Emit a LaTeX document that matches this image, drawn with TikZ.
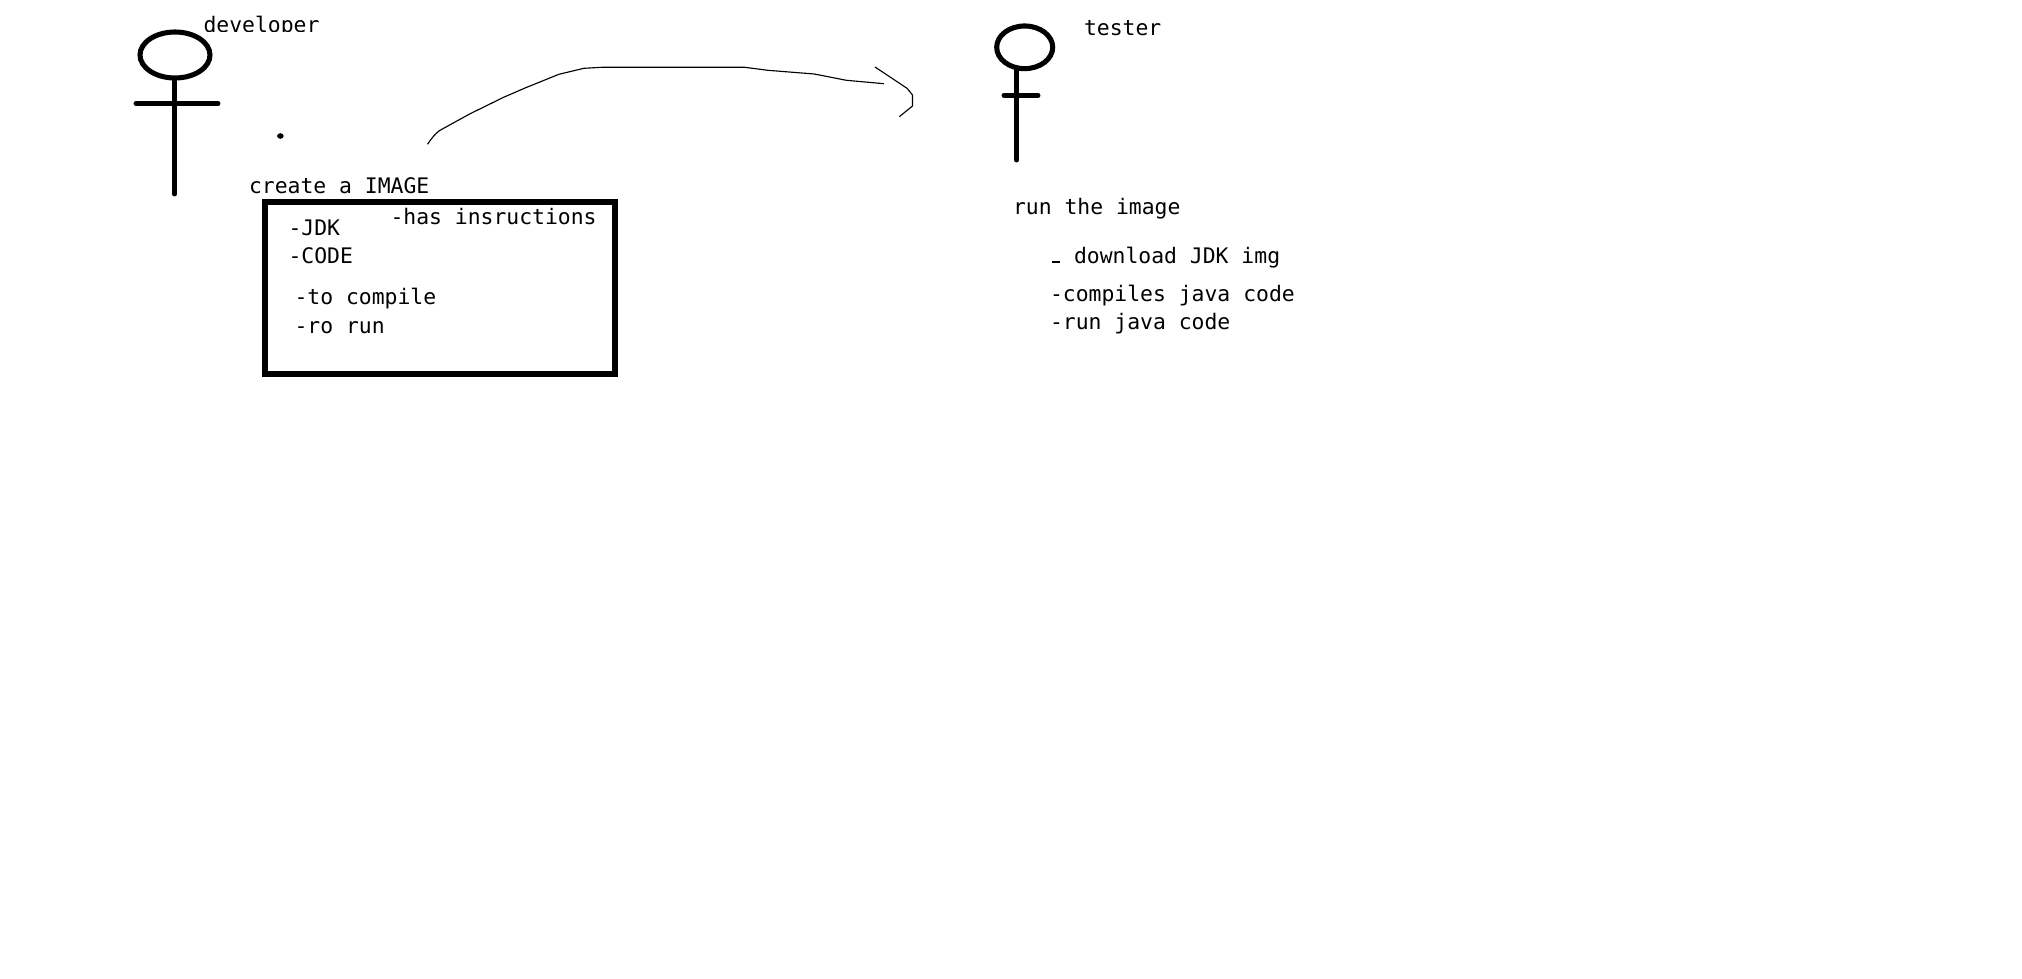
\documentclass[tikz,border=0pt]{standalone}
\usepackage{fontspec}
\setmonofont{DejaVu Sans Mono}
\usetikzlibrary{shapes.geometric}
\tikzset{
  x=0.75pt,y=-0.75pt,
  lbl/.style={anchor=base west,inner sep=0pt,outer sep=0pt,font=\ttfamily\fontsize{16.05}{18}\selectfont,text=black},
  head/.style={draw=black,ellipse,line width=3.8pt,inner sep=0pt},
  stroke/.style={draw=black,line width=3.7pt,line cap=round},
  pen/.style={draw=black,line width=0.85pt,line join=round},
  imgbox/.style={draw=black,line width=4pt,inner sep=0pt,minimum width=262.5pt,minimum height=129pt}
}
\begin{document}
\begin{tikzpicture}
\useasboundingbox[fill=white] (0,0) rectangle (2022,978);
% developer figure
\node[head,minimum width=52.5pt,minimum height=34.5pt] (devhead) at (175,55) {};
\coordinate (devneck) at (174.6,79);
\coordinate (devfoot) at (174.6,194);
\coordinate (devarmL) at (136,103.5);
\coordinate (devarmR) at (218,103.5);
\draw[stroke] (devneck) -- (devfoot);
\draw[stroke] (devarmL) -- (devarmR);
\begin{scope}
  \clip (190,0) rectangle (340,31);
  \node[lbl] (devlabel) at (203.5,32) {developer};
\end{scope}
\node[fill=black,ellipse,minimum width=5pt,minimum height=4.2pt,inner sep=0pt] (dot) at (280.4,136) {};
% image box
\node[imgbox] (imgbox) at (440,288) {};
\node[lbl] (create) at (249,193) {create a IMAGE};
\node[lbl] (has) at (390.5,224) {-has insructions};
\node[lbl] (jdk) at (288.5,235) {-JDK};
\node[lbl] (codeT) at (288.5,263) {-CODE};
\node[lbl] (compileT) at (294.5,304) {-to compile};
\node[lbl] (runT) at (294.5,333) {-ro run};
% hand-drawn arrow
\coordinate (arrowstart) at (427.5,144.3);
\coordinate (arrowend) at (883.9,83.7);
\coordinate (tipA) at (875,67);
\coordinate (tipB) at (899.3,116.7);
\draw[pen] (arrowstart) .. controls (431,139) and (435,134) .. (439.3,130.7) -- (469.6,114) -- (503.6,97.3) -- (525,88) -- (558.9,74.3) -- (583.9,68.3) -- (601.8,67.3) -- (744.6,67.3) -- (767.9,70.3) -- (814.3,74) -- (846.4,80.3) -- (arrowend);
\draw[pen] (tipA) -- (907,88.3) -- (912.5,95) -- (912.5,106) -- (tipB);
% tester figure
\node[head,minimum width=42pt,minimum height=32pt] (testhead) at (1024.7,47.3) {};
\coordinate (testneck) at (1016.7,69);
\coordinate (testfoot) at (1016.7,160);
\coordinate (testarmL) at (1004,95.3);
\coordinate (testarmR) at (1038,95.3);
\draw[stroke] (testneck) -- (testfoot);
\draw[stroke] (testarmL) -- (testarmR);
\node[lbl] (tester) at (1084,35) {tester};
\node[lbl] (runimg) at (1013,214) {run the image};
\coordinate (dashL) at (1052,262);
\coordinate (dashR) at (1059.5,262);
\draw[draw=black,line width=1.5pt] (dashL) -- (dashR);
\node[lbl] (download) at (1074,263) {download JDK img};
\node[lbl] (compiles) at (1050,301) {-compiles java code};
\node[lbl] (runjava) at (1050,329) {-run java code};
\end{tikzpicture}
\end{document}
